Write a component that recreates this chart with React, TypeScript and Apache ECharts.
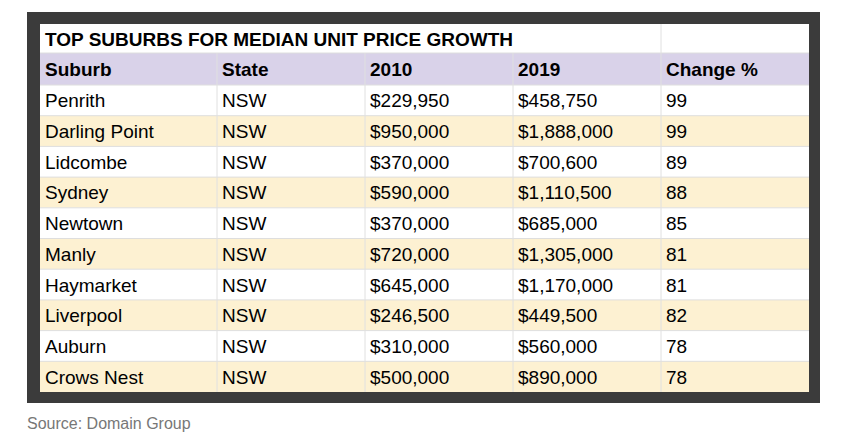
import React, { useEffect, useRef } from "react";
import * as echarts from "echarts";

const title = "TOP SUBURBS FOR MEDIAN UNIT PRICE GROWTH";
const headers = ["Suburb", "State", "2010", "2019", "Change %"];
const suburbs = ["Penrith", "Darling Point", "Lidcombe", "Sydney", "Newtown", "Manly", "Haymarket", "Liverpool", "Auburn", "Crows Nest"];
const states = ["NSW", "NSW", "NSW", "NSW", "NSW", "NSW", "NSW", "NSW", "NSW", "NSW"];
const price2010 = [229950, 950000, 370000, 590000, 370000, 720000, 645000, 246500, 310000, 500000];
const price2019 = [458750, 1888000, 700600, 1110500, 685000, 1305000, 1170000, 449500, 560000, 890000];
const changePct = [99, 99, 89, 88, 85, 81, 81, 82, 78, 78];
const source = "Source: Domain Group";

const FONT = '"Liberation Sans", Arial, sans-serif';

function money(v: number) {
  return "$" + v.toLocaleString("en-US");
}

export default function App() {
  const ref = useRef<HTMLDivElement>(null);
  useEffect(() => {
    document.body.style.margin = "0";
    const chart = echarts.init(ref.current!, undefined, { renderer: "svg" });
    const colX = [40, 217, 365, 513, 661, 809];
    const tableTop = 24;
    const titleH = 29;
    const headH = 32;
    const rowTop = 85;
    const rowH = 30.7;
    const nRows = suburbs.length;
    const tableBottom = rowTop + rowH * nRows;
    const els: any[] = [];
    // frame
    els.push({ type: "rect", shape: { x: 27, y: 12, width: 793, height: 391 }, style: { fill: "#3b3b3b" } });
    els.push({ type: "rect", shape: { x: colX[0], y: tableTop, width: colX[5] - colX[0], height: tableBottom - tableTop }, style: { fill: "#ffffff" } });
    // header bg
    els.push({ type: "rect", shape: { x: colX[0], y: tableTop + titleH, width: colX[5] - colX[0], height: headH }, style: { fill: "#d9d2e9" } });
    // rows
    for (let i = 0; i < nRows; i++) {
      const y = rowTop + i * rowH;
      els.push({ type: "rect", shape: { x: colX[0], y, width: colX[5] - colX[0], height: rowH }, style: { fill: i % 2 === 1 ? "#fdf1d2" : "#ffffff" } });
    }
    // horizontal lines
    const hLines = [tableTop + titleH, rowTop];
    for (let i = 1; i < nRows; i++) hLines.push(rowTop + i * rowH);
    hLines.forEach((y) => {
      els.push({ type: "line", shape: { x1: colX[0], y1: y, x2: colX[5], y2: y }, style: { stroke: "#dedede", lineWidth: 1 } });
    });
    // vertical lines
    colX.slice(1, 5).forEach((x, k) => {
      const top = k === 3 ? tableTop : tableTop + titleH;
      els.push({ type: "line", shape: { x1: x, y1: top, x2: x, y2: tableBottom }, style: { stroke: "#e0e0e0", lineWidth: 1 } });
    });
    // title
    els.push({ type: "text", x: colX[0] + 5, y: tableTop + titleH / 2 + 1, style: { text: title, font: `bold 19px ${FONT}`, fill: "#000", textVerticalAlign: "middle" } });
    headers.forEach((h, c) => {
      els.push({ type: "text", x: colX[c] + 5, y: tableTop + titleH + headH / 2, style: { text: h, font: `bold 19px ${FONT}`, fill: "#000", textVerticalAlign: "middle" } });
    });
    for (let i = 0; i < nRows; i++) {
      const cy = rowTop + i * rowH + rowH / 2 + 0.5;
      const vals = [suburbs[i], states[i], money(price2010[i]), money(price2019[i]), String(changePct[i])];
      vals.forEach((v, c) => {
        els.push({ type: "text", x: colX[c] + 5, y: cy, style: { text: v, font: `19px ${FONT}`, fill: "#000", textVerticalAlign: "middle" } });
      });
    }
    els.push({ type: "text", x: 27, y: 423, style: { text: source, font: `16px ${FONT}`, fill: "#777777", textVerticalAlign: "middle" } });
    chart.setOption({ animation: false, graphic: { elements: els } });
    return () => chart.dispose();
  }, []);
  return <div ref={ref} style={{ width: 866, height: 438, background: "#fff" }} />;
}
